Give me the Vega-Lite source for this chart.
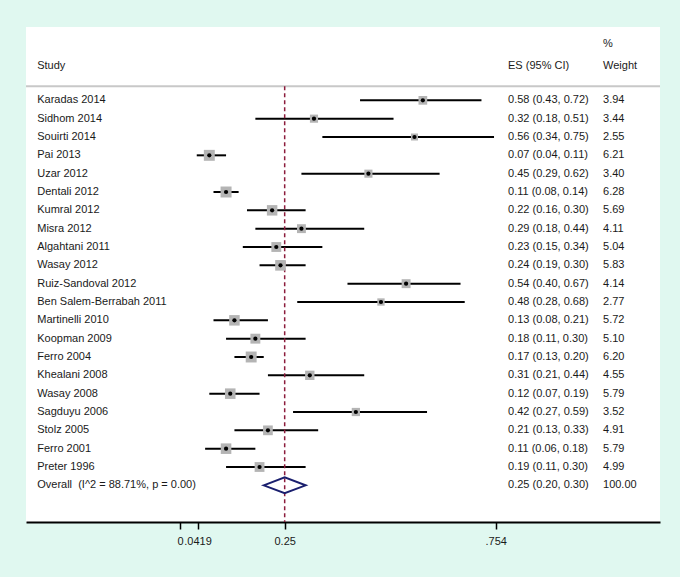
{
  "$schema": "https://vega.github.io/schema/vega-lite/v6.json",
  "width": 634,
  "height": 495,
  "autosize": {"type": "none"},
  "padding": {"left": 26, "top": 27, "right": 20, "bottom": 55},
  "background": "#e0f8f0",
  "config": {"view": {"stroke": null, "fill": "white"}, "font": "Liberation Sans", "text": {"font": "Liberation Sans", "fontSize": 11, "color": "#1a1a1a"}},
  "datasets": {
    "rows": [
      {"row": 0, "study": "Karadas 2014", "es": 0.58, "lo": 0.43, "hi": 0.72, "w": 3.94, "esci": "0.58 (0.43, 0.72)", "wt": "3.94", "type": "study"},
      {"row": 1, "study": "Sidhom 2014", "es": 0.32, "lo": 0.18, "hi": 0.51, "w": 3.44, "esci": "0.32 (0.18, 0.51)", "wt": "3.44", "type": "study"},
      {"row": 2, "study": "Souirti 2014", "es": 0.56, "lo": 0.34, "hi": 0.75, "w": 2.55, "esci": "0.56 (0.34, 0.75)", "wt": "2.55", "type": "study"},
      {"row": 3, "study": "Pai 2013", "es": 0.07, "lo": 0.04, "hi": 0.11, "w": 6.21, "esci": "0.07 (0.04, 0.11)", "wt": "6.21", "type": "study"},
      {"row": 4, "study": "Uzar 2012", "es": 0.45, "lo": 0.29, "hi": 0.62, "w": 3.40, "esci": "0.45 (0.29, 0.62)", "wt": "3.40", "type": "study"},
      {"row": 5, "study": "Dentali 2012", "es": 0.11, "lo": 0.08, "hi": 0.14, "w": 6.28, "esci": "0.11 (0.08, 0.14)", "wt": "6.28", "type": "study"},
      {"row": 6, "study": "Kumral 2012", "es": 0.22, "lo": 0.16, "hi": 0.30, "w": 5.69, "esci": "0.22 (0.16, 0.30)", "wt": "5.69", "type": "study"},
      {"row": 7, "study": "Misra 2012", "es": 0.29, "lo": 0.18, "hi": 0.44, "w": 4.11, "esci": "0.29 (0.18, 0.44)", "wt": "4.11", "type": "study"},
      {"row": 8, "study": "Algahtani 2011", "es": 0.23, "lo": 0.15, "hi": 0.34, "w": 5.04, "esci": "0.23 (0.15, 0.34)", "wt": "5.04", "type": "study"},
      {"row": 9, "study": "Wasay 2012", "es": 0.24, "lo": 0.19, "hi": 0.30, "w": 5.83, "esci": "0.24 (0.19, 0.30)", "wt": "5.83", "type": "study"},
      {"row": 10, "study": "Ruiz-Sandoval 2012", "es": 0.54, "lo": 0.40, "hi": 0.67, "w": 4.14, "esci": "0.54 (0.40, 0.67)", "wt": "4.14", "type": "study"},
      {"row": 11, "study": "Ben Salem-Berrabah 2011", "es": 0.48, "lo": 0.28, "hi": 0.68, "w": 2.77, "esci": "0.48 (0.28, 0.68)", "wt": "2.77", "type": "study"},
      {"row": 12, "study": "Martinelli 2010", "es": 0.13, "lo": 0.08, "hi": 0.21, "w": 5.72, "esci": "0.13 (0.08, 0.21)", "wt": "5.72", "type": "study"},
      {"row": 13, "study": "Koopman 2009", "es": 0.18, "lo": 0.11, "hi": 0.30, "w": 5.10, "esci": "0.18 (0.11, 0.30)", "wt": "5.10", "type": "study"},
      {"row": 14, "study": "Ferro 2004", "es": 0.17, "lo": 0.13, "hi": 0.20, "w": 6.20, "esci": "0.17 (0.13, 0.20)", "wt": "6.20", "type": "study"},
      {"row": 15, "study": "Khealani 2008", "es": 0.31, "lo": 0.21, "hi": 0.44, "w": 4.55, "esci": "0.31 (0.21, 0.44)", "wt": "4.55", "type": "study"},
      {"row": 16, "study": "Wasay 2008", "es": 0.12, "lo": 0.07, "hi": 0.19, "w": 5.79, "esci": "0.12 (0.07, 0.19)", "wt": "5.79", "type": "study"},
      {"row": 17, "study": "Sagduyu 2006", "es": 0.42, "lo": 0.27, "hi": 0.59, "w": 3.52, "esci": "0.42 (0.27, 0.59)", "wt": "3.52", "type": "study"},
      {"row": 18, "study": "Stolz 2005", "es": 0.21, "lo": 0.13, "hi": 0.33, "w": 4.91, "esci": "0.21 (0.13, 0.33)", "wt": "4.91", "type": "study"},
      {"row": 19, "study": "Ferro 2001", "es": 0.11, "lo": 0.06, "hi": 0.18, "w": 5.79, "esci": "0.11 (0.06, 0.18)", "wt": "5.79", "type": "study"},
      {"row": 20, "study": "Preter 1996", "es": 0.19, "lo": 0.11, "hi": 0.30, "w": 4.99, "esci": "0.19 (0.11, 0.30)", "wt": "4.99", "type": "study"},
      {"row": 21, "study": "Overall\u00a0 (I^2 = 88.71%, p = 0.00)", "es": 0.25, "lo": 0.20, "hi": 0.30, "w": 100, "esci": "0.25 (0.20, 0.30)", "wt": "100.00", "type": "overall"}
    ]
  },
  "data": {"name": "rows"},
  "layer": [
    {
      "transform": [{"filter": "datum.type == 'study'"}],
      "mark": {"type": "rule", "color": "black", "strokeWidth": 2},
      "encoding": {
        "x": {"field": "lo", "type": "quantitative", "title": null,
              "scale": {"domain": [-0.3678, 1.1464], "nice": false, "zero": false},
              "axis": {"values": [0, 0.0419, 0.25, 0.754],
                       "labelExpr": "datum.value < 0.001 ? '0' : datum.value < 0.05 ? '\u2009.0419' : datum.value < 0.3 ? '0.25' : '.754'",
                       "grid": false, "domainColor": "black", "domainWidth": 2, "tickColor": "black", "tickWidth": 1.5, "tickSize": 7,
                       "labelFontSize": 11, "labelColor": "#1a1a1a", "labelPadding": 6, "labelFlush": false, "labelOverlap": false, "labelBound": false, "labelFont": "Liberation Sans"}},
        "x2": {"field": "hi"},
        "y": {"field": "row", "type": "quantitative", "axis": null,
              "scale": {"domain": [-4, 23], "nice": false, "zero": false, "reverse": true}}
      }
    },
    {
      "data": {"values": [{}]},
      "mark": {"type": "rule", "color": "#c8c8c8", "strokeWidth": 2},
      "encoding": {
        "x": {"datum": -0.3678, "type": "quantitative"},
        "x2": {"datum": 1.1464},
        "y": {"datum": -0.77, "type": "quantitative"}
      }
    },
    {
      "data": {"values": [{}]},
      "mark": {"type": "rule", "color": "#8c1c3c", "strokeWidth": 1.5, "strokeDash": [4, 3]},
      "encoding": {
        "x": {"datum": 0.25, "type": "quantitative"},
        "y": {"datum": -0.77, "type": "quantitative"},
        "y2": {"datum": 23}
      }
    },
    {
      "transform": [{"filter": "datum.type == 'study'"}],
      "mark": {"type": "square", "color": "#b4b4b4", "opacity": 1},
      "encoding": {
        "x": {"field": "es", "type": "quantitative", "title": null},
        "y": {"field": "row", "type": "quantitative"},
        "size": {"field": "w", "type": "quantitative", "legend": null, "scale": {"domain": [0, 6.28], "range": [0, 121], "zero": true}}
      }
    },
    {
      "transform": [{"filter": "datum.type == 'study'"}],
      "mark": {"type": "circle", "color": "black", "size": 18, "opacity": 1},
      "encoding": {
        "x": {"field": "es", "type": "quantitative", "title": null},
        "y": {"field": "row", "type": "quantitative"}
      }
    },
    {
      "transform": [{"filter": "datum.type == 'overall'"}],
      "mark": {"type": "point", "shape": "M -1 0 L 0 -0.38 L 1 0 L 0 0.38 Z", "filled": false, "color": "#1a1f6e", "strokeWidth": 2, "size": 1755, "opacity": 1},
      "encoding": {
        "x": {"field": "es", "type": "quantitative", "title": null},
        "y": {"field": "row", "type": "quantitative"}
      }
    },
    {
      "mark": {"type": "text", "align": "left", "baseline": "middle"},
      "encoding": {
        "x": {"datum": -0.341, "type": "quantitative"},
        "y": {"field": "row", "type": "quantitative"},
        "text": {"field": "study"}
      }
    },
    {
      "mark": {"type": "text", "align": "left", "baseline": "middle"},
      "encoding": {
        "x": {"datum": 0.7834, "type": "quantitative"},
        "y": {"field": "row", "type": "quantitative"},
        "text": {"field": "esci"}
      }
    },
    {
      "mark": {"type": "text", "align": "left", "baseline": "middle"},
      "encoding": {
        "x": {"datum": 1.0103, "type": "quantitative"},
        "y": {"field": "row", "type": "quantitative"},
        "text": {"field": "wt"}
      }
    },
    {
      "data": {"values": [{}]},
      "mark": {"type": "text", "align": "left", "baseline": "middle", "text": "Study"},
      "encoding": {"x": {"datum": -0.341, "type": "quantitative"}, "y": {"datum": -1.9, "type": "quantitative"}}
    },
    {
      "data": {"values": [{}]},
      "mark": {"type": "text", "align": "left", "baseline": "middle", "text": "ES (95% CI)"},
      "encoding": {"x": {"datum": 0.7834, "type": "quantitative"}, "y": {"datum": -1.9, "type": "quantitative"}}
    },
    {
      "data": {"values": [{}]},
      "mark": {"type": "text", "align": "left", "baseline": "middle", "text": "Weight"},
      "encoding": {"x": {"datum": 1.0103, "type": "quantitative"}, "y": {"datum": -1.9, "type": "quantitative"}}
    },
    {
      "data": {"values": [{}]},
      "mark": {"type": "text", "align": "left", "baseline": "middle", "text": "%"},
      "encoding": {"x": {"datum": 1.0103, "type": "quantitative"}, "y": {"datum": -3.05, "type": "quantitative"}}
    }
  ]
}
